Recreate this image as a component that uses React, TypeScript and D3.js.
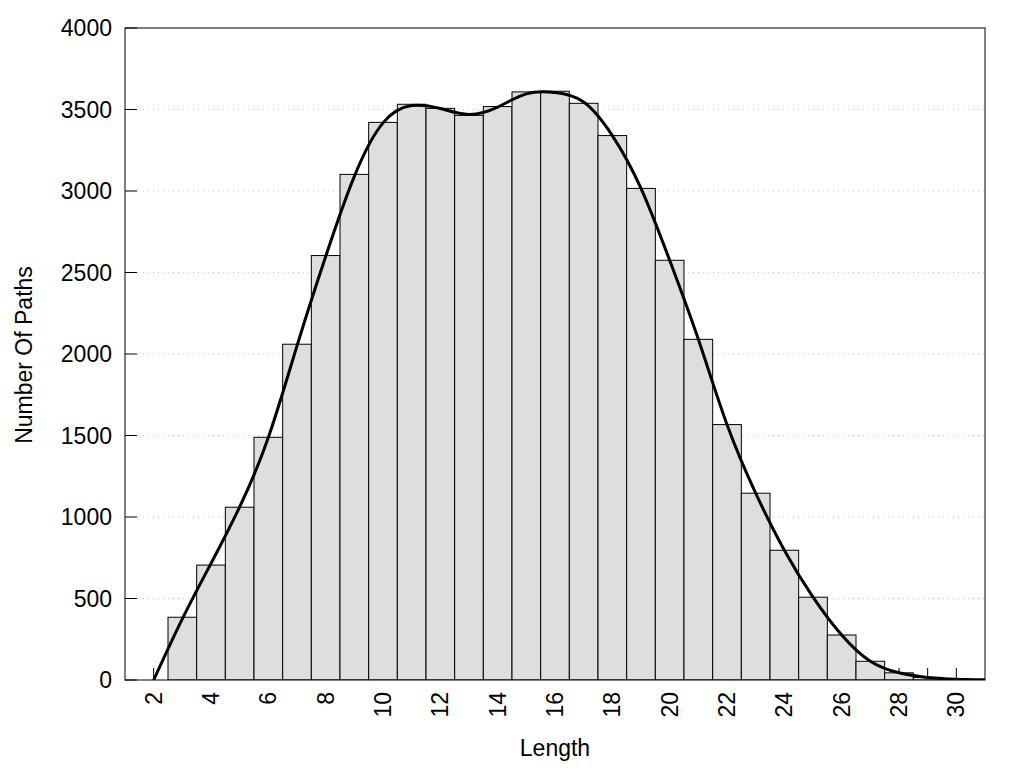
import React from "react";
import * as d3 from "d3";

const lengths = [2, 3, 4, 5, 6, 7, 8, 9, 10, 11, 12, 13, 14, 15, 16, 17, 18, 19, 20, 21, 22, 23, 24, 25, 26, 27, 28, 29, 30];
const counts = [0, 385, 705, 1060, 1489, 2060, 2604, 3102, 3421, 3532, 3507, 3464, 3518, 3608, 3612, 3538, 3340, 3016, 2575, 2090, 1567, 1146, 796, 508, 276, 115, 44, 16, 5];
const curveX = [2, 3, 4, 5, 6, 7, 8, 9, 10, 11, 12, 13, 14, 15, 16, 17, 18, 19, 20, 21, 22, 23, 24, 25, 26, 27, 28, 29, 30, 31];
const curveY = [0, 375, 715, 1062, 1488, 2050, 2598, 3090, 3418, 3524, 3506, 3470, 3515, 3596, 3604, 3546, 3340, 3016, 2575, 2090, 1567, 1146, 796, 508, 276, 115, 44, 16, 5, 1];
const yTicks = [0, 500, 1000, 1500, 2000, 2500, 3000, 3500, 4000];
const xTickLabels = [2, 4, 6, 8, 10, 12, 14, 16, 18, 20, 22, 24, 26, 28, 30];

const W = 1024;
const H = 768;
const left = 125, right = 985, top = 28, bottom = 680;
const FONT = "'Liberation Sans', Arial, sans-serif";

export default function App() {
  const x = d3.scaleLinear().domain([1, 31]).range([left, right]);
  const y = d3.scaleLinear().domain([0, 4000]).range([bottom, top]);
  const line = d3
    .line<number>()
    .x((_, i) => x(curveX[i]))
    .y((d) => y(Math.max(0, d)))
    .curve(d3.curveNatural);
  const allTicks = d3.range(2, 31);

  return (
    <svg width={W} height={H} style={{ position: "absolute", left: 0, top: 0, background: "#fff" }} fontFamily={FONT}>
      <defs>
        <clipPath id="plot">
          <rect x={left} y={top} width={right - left} height={bottom - top} />
        </clipPath>
      </defs>
      <rect x={0} y={0} width={W} height={H} fill="#fff" />
      {yTicks.filter((t) => t > 0 && t < 4000).map((t) => (
        <line key={"g" + t} x1={left + 13} x2={right} y1={y(t)} y2={y(t)} stroke="#c8c8c8" strokeWidth={1} strokeDasharray="1,4" />
      ))}
      {allTicks.map((t) => (
        <line key={"xt" + t} x1={x(t)} x2={x(t)} y1={bottom} y2={bottom - 12} stroke="#000" strokeWidth={1} />
      ))}
      {yTicks.map((t) => (
        <line key={"yt" + t} x1={left} x2={left + 12} y1={y(t)} y2={y(t)} stroke="#000" strokeWidth={1} />
      ))}
      <g clipPath="url(#plot)">
        {lengths.map((l, i) =>
          counts[i] > 0 ? (
            <rect
              key={"b" + l}
              x={x(l - 0.5)}
              y={y(counts[i])}
              width={x(l + 0.5) - x(l - 0.5)}
              height={y(0) - y(counts[i])}
              fill="#dedede"
              stroke="#000"
              strokeWidth={1}
            />
          ) : null
        )}
        <path d={line(curveY) || ""} fill="none" stroke="#000" strokeWidth={3} />
      </g>
      <rect x={left} y={top} width={right - left} height={bottom - top} fill="none" stroke="#000" strokeWidth={1} />
      {yTicks.map((t) => (
        <text key={"yl" + t} x={112} y={y(t)} dy="0.35em" textAnchor="end" fontSize={23} fill="#000">
          {t}
        </text>
      ))}
      {xTickLabels.map((t) => (
        <text
          key={"xl" + t}
          transform={`translate(${x(t)},692) rotate(-90)`}
          dy="0.35em"
          textAnchor="end"
          fontSize={23}
          fill="#000"
        >
          {t}
        </text>
      ))}
      <text x={555} y={756} textAnchor="middle" fontSize={23} fill="#000">
        Length
      </text>
      <text transform={`translate(32,355) rotate(-90)`} textAnchor="middle" fontSize={23} fill="#000">
        Number Of Paths
      </text>
    </svg>
  );
}
